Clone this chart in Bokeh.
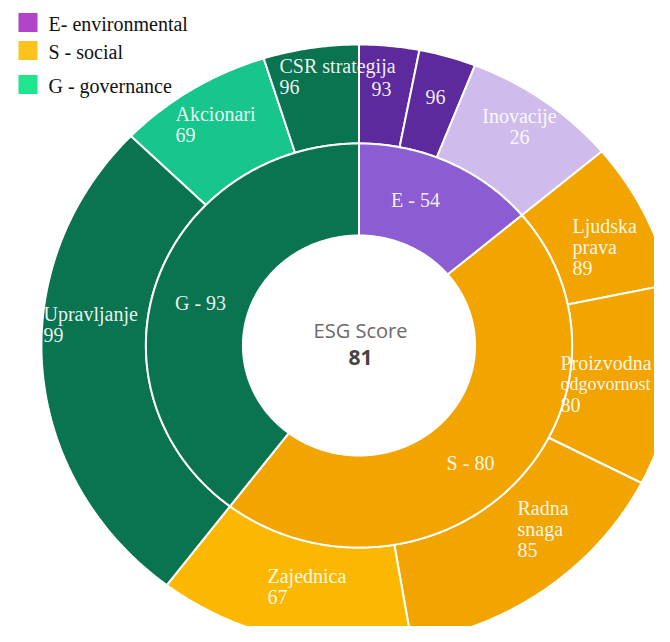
import numpy as np
from bokeh.plotting import figure
from bokeh.models import Range1d, ColumnDataSource
from bokeh.core.properties import value
from bokeh.embed import file_html
from bokeh.resources import INLINE

# ---------------- data ----------------
pillars = ["E", "S", "G"]
pillar_scores = [54, 80, 93]
legend_labels = ["E- environmental", "S - social", "G - governance"]

topics = ["", "", "Inovacije", "Ljudska\nprava", "Proizvodna\nodgovornost",
          "Radna\nsnaga", "Zajednica", "Upravljanje", "Akcionari", "CSR strategija"]
topic_pillar = ["E", "E", "E", "S", "S", "S", "S", "G", "G", "G"]
topic_scores = [93, 96, 26, 89, 80, 85, 67, 99, 69, 96]
topic_weights = [3.05, 2.9, 7.9, 7.9, 10.8, 14.8, 13.0, 26.9, 7.9, 4.85]

esg_title = "ESG Score"
esg_score = 81

# ---------------- style / layout ----------------
pillar_colors = {"E": "#8b5cd2", "S": "#f2a400", "G": "#0a7350"}
topic_colors = ["#5c2a9c", "#5c2a9c", "#cfbcec", "#f2a400", "#f2a400",
                "#f2a400", "#fcb800", "#0a7350", "#16c68c", "#0a7350"]
legend_colors = ["#b044c8", "#fbc31c", "#1fe58c"]

CX, CY = 358.5, 345.0     # centre (screen pixels)
SX = 1.055                # horizontal stretch of the ring
R0, R1, R2 = 110, 202, 301
SERIF = value("Liberation Serif")

# label anchors (screen pixels): x, y of first line, alignment
topic_label_pos = [(381, 88, "center"), (435, 96, "center"), (519, 115, "center"),
                   (572, 225, "left"), (560, 362, "left"), (517, 507, "left"),
                   (267, 575, "left"), (43, 313, "left"), (175, 113, "left"),
                   (279, 65, "left")]
pillar_label_pos = [(415, 199), (470, 462), (200, 302)]
LINE_H = 21

W, H = 654, 626
p = figure(width=W, height=H, output_backend="svg", toolbar_location=None,
           x_range=Range1d(0, W), y_range=Range1d(H, 0),
           min_border=0, outline_line_color=None,
           x_axis_location=None, y_axis_location=None)
p.xgrid.visible = False
p.ygrid.visible = False
p.background_fill_color = "white"
p.border_fill_color = "white"


def wedge(a0, a1, r_in, r_out):
    n = max(8, int(abs(a1 - a0) * 90))
    t = np.linspace(a0, a1, n)
    xo = CX + SX * r_out * np.sin(t)
    yo = CY - r_out * np.cos(t)
    xi = CX + SX * r_in * np.sin(t[::-1])
    yi = CY - r_in * np.cos(t[::-1])
    return list(np.r_[xo, xi]), list(np.r_[yo, yi])


total = sum(topic_weights)
ang = np.r_[0, np.cumsum(topic_weights)] / total * 2 * np.pi

# outer ring
oxs, oys = [], []
for i in range(len(topics)):
    x, y = wedge(ang[i], ang[i + 1], R1, R2)
    oxs.append(x)
    oys.append(y)
p.patches(xs=oxs, ys=oys, fill_color=topic_colors, line_color="white", line_width=2)

# inner ring
ixs, iys, icol = [], [], []
for k in pillars:
    idx = [i for i, pk in enumerate(topic_pillar) if pk == k]
    x, y = wedge(ang[idx[0]], ang[idx[-1] + 1], R0, R1)
    ixs.append(x)
    iys.append(y)
    icol.append(pillar_colors[k])
p.patches(xs=ixs, ys=iys, fill_color=icol, line_color="white", line_width=2)

# outer labels
tx, ty, tt, ta, ts = [], [], [], [], []
for i, name in enumerate(topics):
    lines = (name.split("\n") if name else []) + [str(topic_scores[i])]
    x0, y0, al = topic_label_pos[i]
    for k, ln in enumerate(lines):
        tx.append(x0)
        ty.append(y0 + k * LINE_H)
        tt.append(ln)
        ta.append(al)
        ts.append("18px" if len(ln) > 10 and al == "left" and x0 > 550 else "20px")
src = ColumnDataSource(dict(x=tx, y=ty, text=tt, align=ta, size=ts))
p.text(x="x", y="y", text="text", text_align="align", source=src,
       text_baseline="middle", text_font=SERIF, text_font_size="size",
       text_color="white", text_alpha=0.93)

# inner labels
p.text(x=[q[0] for q in pillar_label_pos], y=[q[1] for q in pillar_label_pos],
       text=[f"{k} - {s}" for k, s in zip(pillars, pillar_scores)],
       text_align="center", text_baseline="middle", text_font=SERIF,
       text_font_size="20px", text_color="white", text_alpha=0.93)

# centre
p.text(x=[CX + 1.5], y=[CY - 15], text=[esg_title], text_align="center",
       text_baseline="middle", text_font=value("Open Sans"),
       text_font_size="20px", text_color="#6a6a6a")
p.text(x=[CX + 1.5], y=[CY + 12], text=[str(esg_score)], text_align="center",
       text_baseline="middle", text_font=value("Open Sans"),
       text_font_size="21px", text_font_style="bold", text_color="#444444")

# legend (drawn)
ly = [22, 50, 84]
p.rect(x=[27.5] * 3, y=ly, width=19, height=19, fill_color=legend_colors,
       line_color=None)
p.text(x=[48] * 3, y=[v + 1 for v in ly], text=legend_labels, text_align="left",
       text_baseline="middle", text_font=SERIF, text_font_size="20px",
       text_color="#111111")

open("out.html", "w").write(file_html(p, INLINE))
